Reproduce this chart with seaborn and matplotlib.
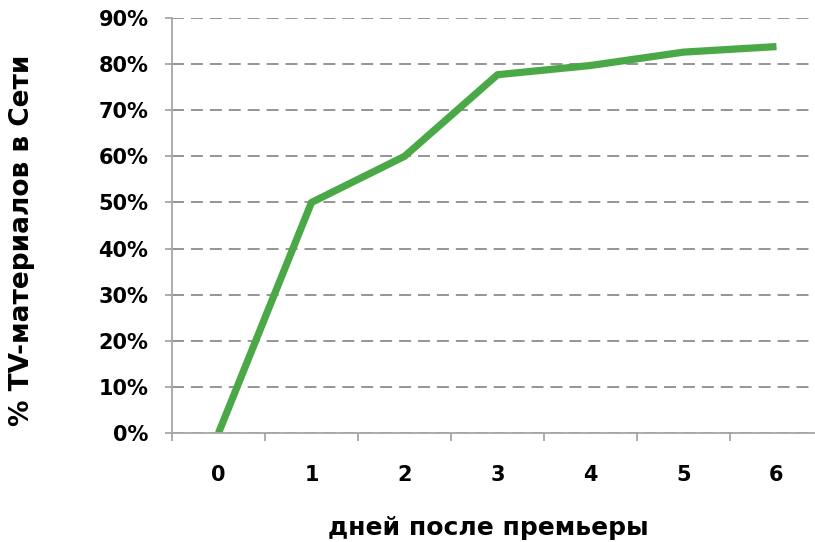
import matplotlib
matplotlib.use("Agg")
import matplotlib.pyplot as plt
import seaborn as sns
import pandas as pd
from matplotlib.ticker import FixedLocator, PercentFormatter

# data
days = [0, 1, 2, 3, 4, 5, 6]
share = [0.0, 0.50, 0.60, 0.777, 0.797, 0.826, 0.838]
y_ticks = [0.0, 0.1, 0.2, 0.3, 0.4, 0.5, 0.6, 0.7, 0.8, 0.9]
x_label = "дней после премьеры"
y_label = "% TV-материалов в Сети"

df = pd.DataFrame({"day": days, "share": share})

sns.set_style("white")
plt.rcParams["font.family"] = ["DejaVu Sans"]
plt.rcParams["font.weight"] = "bold"
plt.rcParams["text.color"] = "black"
plt.rcParams["xtick.color"] = "black"
plt.rcParams["ytick.color"] = "black"

fig = plt.figure(figsize=(8.15, 5.42), dpi=100)
ax = fig.add_axes([172 / 815, 109 / 542, 651 / 815, 415 / 542])

ax.set_axisbelow(True)
ax.yaxis.grid(True, color="#888888", lw=1.25, linestyle=(0, (6.9, 4)))
ax.xaxis.grid(False)

sns.lineplot(data=df, x="day", y="share", ax=ax, color="#4BA846",
             lw=5.2, solid_capstyle="butt")

ax.set_xlim(-0.5, 6.5)
ax.set_ylim(0, 0.9)
ax.set_yticks(y_ticks)
ax.yaxis.set_major_formatter(PercentFormatter(1.0, decimals=0))
ax.set_xticks(days)
ax.xaxis.set_minor_locator(FixedLocator([d - 0.5 for d in days] + [6.5]))

for s in ["top", "right"]:
    ax.spines[s].set_visible(False)
for s in ["left", "bottom"]:
    ax.spines[s].set_color("#a6a6a6")
    ax.spines[s].set_linewidth(1.3)

ax.tick_params(axis="y", which="major", left=True, direction="out",
               length=5, width=1.3, color="#a6a6a6", labelcolor="black",
               labelsize=15, pad=12)
ax.tick_params(axis="x", which="major", bottom=False, labelbottom=True,
               length=0, labelcolor="black", labelsize=15, pad=23)
ax.tick_params(axis="x", which="minor", bottom=True, direction="out",
               length=5.5, width=1.3, color="#a6a6a6")
for lab in ax.get_xticklabels() + ax.get_yticklabels():
    lab.set_fontweight("bold")

ax.set_xlabel("")
ax.set_ylabel("")
fig.text(488 / 815, 1 - 528 / 542, x_label, ha="center", va="center",
         fontsize=18, fontweight="bold", color="black")
fig.text(22 / 815, 1 - 240 / 542, y_label, ha="center", va="center",
         rotation=90, fontsize=19, fontweight="bold", color="black")

fig.savefig("out.png", dpi=100)
